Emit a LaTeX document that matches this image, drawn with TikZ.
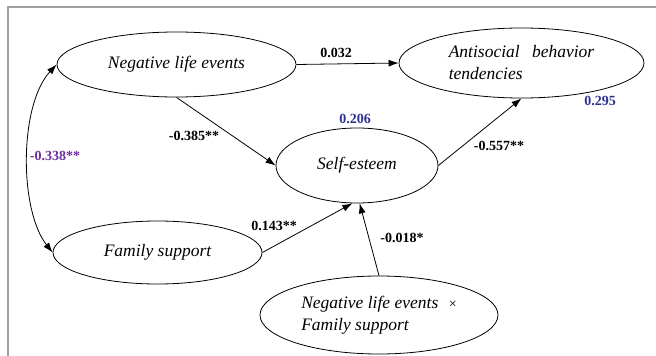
\documentclass[tikz,border=0pt]{standalone}
\usepackage{fontspec}
\setmainfont{Liberation Serif}
\usepackage{tikz}
\usetikzlibrary{arrows.meta,shapes.geometric}
\definecolor{cov}{RGB}{112,48,160}
\definecolor{rsq}{RGB}{46,49,146}

\begin{document}
\begin{tikzpicture}[x=1pt,y=-1pt,
  var/.style={draw,ellipse,line width=0.8pt,inner sep=0pt,font=\fontsize{17.5}{22}\selectfont\itshape},
  coef/.style={font=\fontsize{14}{16}\selectfont\bfseries},
  arr/.style={-{Latex[length=10pt,width=7pt]},line width=0.8pt}]
  \useasboundingbox (0,0) rectangle (656,356);
  \draw[gray!75,line width=1.2pt] (8,356) -- (8,7) -- (656,7);
  % variables
  \node[var,minimum width=239,minimum height=65] (nle) at (176.5,64.5) {Negative life events};
  \node[var,minimum width=245,minimum height=70,align=left] (anti) at (521.5,63) {Antisocial\hspace{0.7em}behavior\\tendencies};
  \node[var,minimum width=162,minimum height=75] (self) at (357,165.5) {Self-esteem};
  \node[var,minimum width=209,minimum height=63] (fam) at (157.5,252.5) {Family support};
  \node[var,minimum width=238,minimum height=78,align=left] (inter) at (379,315) {Negative life events\hspace{0.6em}{\upshape\fontsize{14}{16}\selectfont ×}\\Family support};
  % paths
  \draw[arr] (nle.east) -- (anti.west);
  \draw[arr] (nle.south) -- (self.west);
  \draw[arr] (self.east) -- (anti.south);
  \draw[arr] (fam.east) -- (self.-97);
  \draw[arr] (inter.north) -- (self.-86);
  \draw[{Latex[length=10pt,width=7pt]}-{Latex[length=10pt,width=7pt]},line width=0.8pt]
    (nle.west) .. controls (19,105) and (19,210) .. (fam.west);
  % coefficients
  \node[coef] (c1) at (336,53) {0.032};
  \node[coef] (c2) at (194,136) {-0.385**};
  \node[coef] (c3) at (499,146) {-0.557**};
  \node[coef] (c4) at (274,226) {0.143**};
  \node[coef] (c5) at (402,238) {-0.018*};
  \node[coef,cov] (r) at (55,156) {-0.338**};
  \node[coef,rsq] (r1) at (355,119) {0.206};
  \node[coef,rsq] (r2) at (600,101) {0.295};
\end{tikzpicture}
\end{document}
